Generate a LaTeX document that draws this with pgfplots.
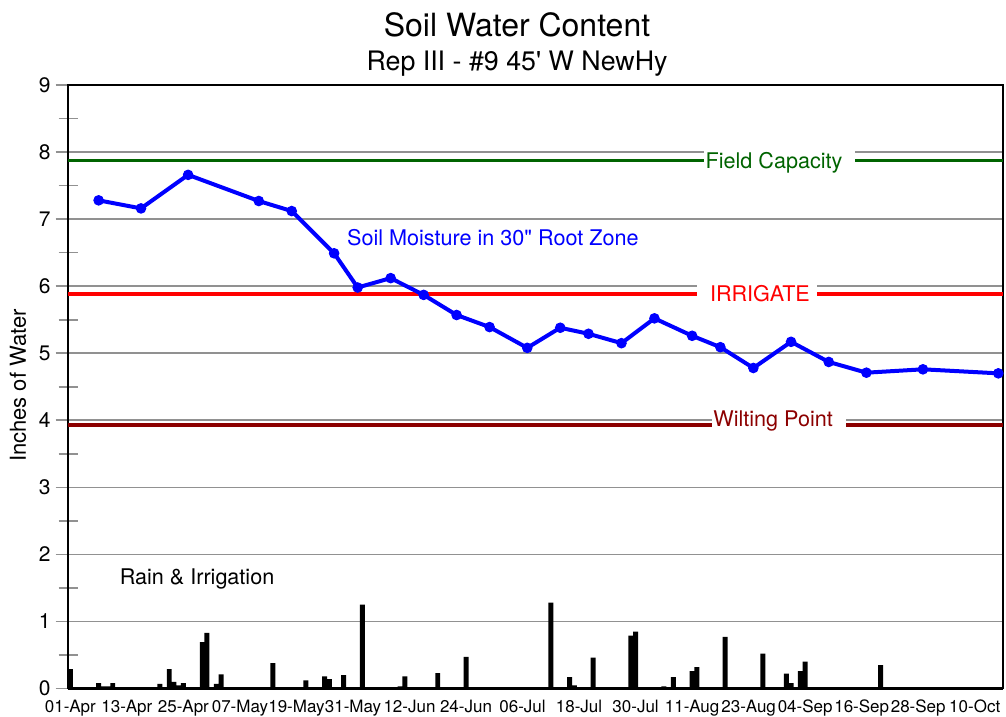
\documentclass[border=0pt]{standalone}
\usepackage{pgfplots}
\pgfplotsset{compat=1.18}
\usepackage{fontspec}
\setmainfont{TeX Gyre Heros}[Ligatures=TeXOff]
\definecolor{fcgreen}{RGB}{0,100,0}
\definecolor{wpred}{RGB}{140,0,0}
\definecolor{gridgray}{RGB}{145,145,145}
\begin{document}
\begin{tikzpicture}
\path[use as bounding box] (-34pt,-14.25pt) rectangle (469pt,344.25pt);
\begin{axis}[
  name=ax,
  scale only axis,
  width=467.5pt, height=301.75pt,
  xmin=-0.5, xmax=198,
  ymin=0, ymax=9,
  axis line style={black, line width=1pt},
  ytick={0,1,...,9},
  minor ytick={0.5,1.5,...,8.5},
  ymajorgrids,
  major grid style={gridgray, line width=0.8pt},
  tick align=center,
  major tick length=12.5pt,
  minor tick length=9.5pt,
  ytick pos=left,
  y tick style={gridgray, line width=0.8pt},
  minor y tick style={gridgray, line width=0.8pt},
  xtick={0,12,...,192},
  xticklabels={01-Apr,13-Apr,25-Apr,07-May,19-May,31-May,12-Jun,24-Jun,06-Jul,18-Jul,30-Jul,11-Aug,23-Aug,04-Sep,16-Sep,28-Sep,10-Oct},
  x tick style={draw=none},
  /pgf/number format/assume math mode=true,
  yticklabel style={font=\fontsize{10.5}{12}\selectfont, xshift=1pt},
  xticklabel style={font=\fontsize{8.5}{10}\selectfont, yshift=4pt},
  clip=false,
]
% rain and irrigation bars
\addplot[ybar, bar width=1.05, fill=black, draw=none] coordinates {
(0,0.29) (6,0.08) (7,0.03) (8,0.03) (9,0.08) (19,0.07) (21,0.29) (22,0.10)
(23,0.045) (24,0.08) (28,0.69) (29,0.83) (31,0.07) (32,0.21) (43,0.38)
(50,0.12) (54,0.18) (55,0.14) (58,0.20) (62,1.25) (70,0.03) (71,0.18)
(75,0.02) (76,0.02) (77,0.02) (78,0.23) (81,0.02) (84,0.47) (102,1.28)
(106,0.17) (107,0.045) (111,0.46) (119,0.79) (120,0.85) (126,0.03)
(128,0.17) (132,0.26) (133,0.32) (139,0.77) (147,0.52) (150,0.02)
(152,0.22) (153,0.08) (155,0.26) (156,0.40) (172,0.35) (177,0.02)
};
\addplot[black, line width=1.4pt] coordinates {(-0.5,0) (198,0)};
% reference lines
\addplot[fcgreen, line width=1.7pt] coordinates {(-0.5,7.87) (198,7.87)};
\addplot[red, line width=2pt] coordinates {(-0.5,5.89) (198,5.89)};
\addplot[wpred, line width=1.7pt] coordinates {(-0.5,3.93) (198,3.93)};
\fill[white] (axis cs:134.5,7.7) rectangle (axis cs:166.6,8.1);
\fill[white] (axis cs:133.0,5.72) rectangle (axis cs:158.5,6.1);
\fill[white] (axis cs:136.2,3.78) rectangle (axis cs:164.7,4.1);
\node[anchor=base, yshift=-3.9pt, inner sep=0pt, text=fcgreen, font=\fontsize{10.8}{12}\selectfont] at (axis cs:149.4,7.87) {Field Capacity};
\node[anchor=base, yshift=-3.9pt, inner sep=0pt, text=red, font=\fontsize{10.8}{12}\selectfont] at (axis cs:146.4,5.89) {IRRIGATE};
\node[anchor=base, yshift=-0.9pt, inner sep=0pt, text=wpred, font=\fontsize{10.8}{12}\selectfont] at (axis cs:149.2,3.93) {Wilting Point};
\node[text=blue, font=\fontsize{10.8}{12}\selectfont] at (axis cs:89.7,6.72) {Soil Moisture in 30" Root Zone};
\node[text=black, font=\fontsize{10.8}{12}\selectfont] at (axis cs:26.9,1.64) {Rain \& Irrigation};
% soil moisture
\addplot[blue, line width=2pt, mark=*, mark size=2.4pt, mark options={solid, fill=blue, draw=blue, line width=0.5pt}] coordinates {
(6,7.28) (15,7.16) (25,7.66) (40,7.27) (47,7.12) (56,6.49) (61,5.98)
(68,6.12) (75,5.87) (82,5.57) (89,5.39) (97,5.08) (104,5.38) (110,5.29)
(117,5.15) (124,5.52) (132,5.26) (138,5.09) (145,4.78) (153,5.17)
(161,4.87) (169,4.71) (181,4.76) (197,4.70)
};
\end{axis}
\node[font=\fontsize{16}{19}\selectfont] at (224.5pt,331.75pt) {Soil Water Content};
\node[font=\fontsize{13.4}{15}\selectfont] at (224.5pt,312.5pt) {Rep III - \#9 45' W NewHy};
\node[rotate=90, font=\fontsize{11}{13}\selectfont] at (-25pt,151.5pt) {Inches of Water};
\end{tikzpicture}
\end{document}
